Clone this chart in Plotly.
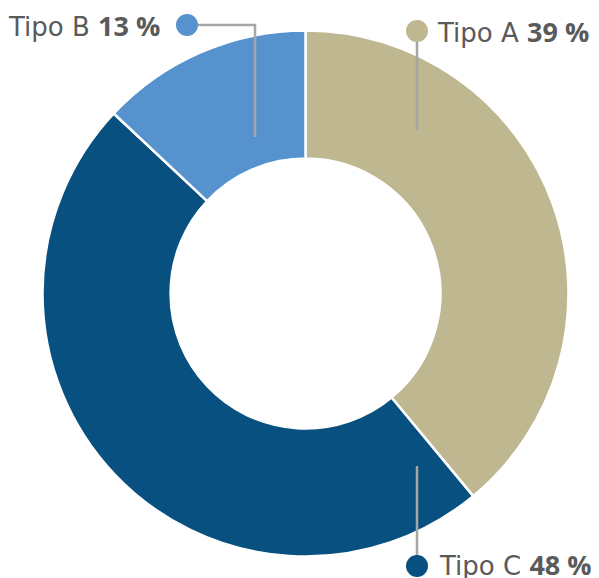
import plotly.graph_objects as go

labels = ["Tipo A", "Tipo C", "Tipo B"]
values = [39, 48, 13]
colors = ["#BFB78F", "#07507F", "#5592CE"]

W, H = 599, 578
OFF = 8  # page body margin offset in the screenshot

def px(x):
    return (x - OFF) / W

def py(y):
    return 1 - (y - OFF) / H

cx, cy, R = 305.5, 293.5, 263

fig = go.Figure(go.Pie(
    labels=labels, values=values, sort=False, direction="clockwise", rotation=0,
    hole=0.513, marker=dict(colors=colors, line=dict(color="white", width=2.5)),
    textinfo="none", hoverinfo="label+percent",
    domain=dict(x=[px(cx - R), px(cx + R)], y=[py(cy + R), py(cy - R)]),
    showlegend=False,
))

line_col = "#A6A6A6"
text_col = "#5A5A5A"
font = dict(family="DejaVu Sans", size=26, color=text_col)

label_layout = {
    "Tipo A": dict(m=(417, 31), path=[(417, 31), (417, 130)], tx=435, ty=31, anchor="left"),
    "Tipo C": dict(m=(417, 566), path=[(417, 566), (417, 466)], tx=437, ty=564, anchor="left"),
    "Tipo B": dict(m=(187, 25), path=[(187, 25), (255, 25), (255, 137)], tx=162, ty=25, anchor="right"),
}

shapes = []
annotations = []
for lab, val, col in zip(labels, values, colors):
    L = label_layout[lab]
    pts = L["path"]
    path = "M " + " L ".join(f"{px(x)},{py(y)}" for x, y in pts)
    shapes.append(dict(type="path", xref="paper", yref="paper", path=path,
                       line=dict(color=line_col, width=2.5)))
    mx, my = L["m"]
    r = 11
    shapes.append(dict(type="circle", xref="paper", yref="paper",
                       x0=px(mx - r), x1=px(mx + r), y0=py(my + r), y1=py(my - r),
                       fillcolor=col, line=dict(width=0)))
    annotations.append(dict(
        xref="paper", yref="paper", x=px(L["tx"]), y=py(L["ty"]),
        xanchor=L["anchor"], yanchor="middle", showarrow=False,
        text=f"{lab} <span style='font-family:Open Sans;font-size:27px'><b>{val} %</b></span>",
        font=font))

fig.update_layout(
    width=W, height=H, margin=dict(l=0, r=0, t=0, b=0),
    paper_bgcolor="white", plot_bgcolor="white",
    shapes=shapes, annotations=annotations,
)

fig.write_html("out.html")
